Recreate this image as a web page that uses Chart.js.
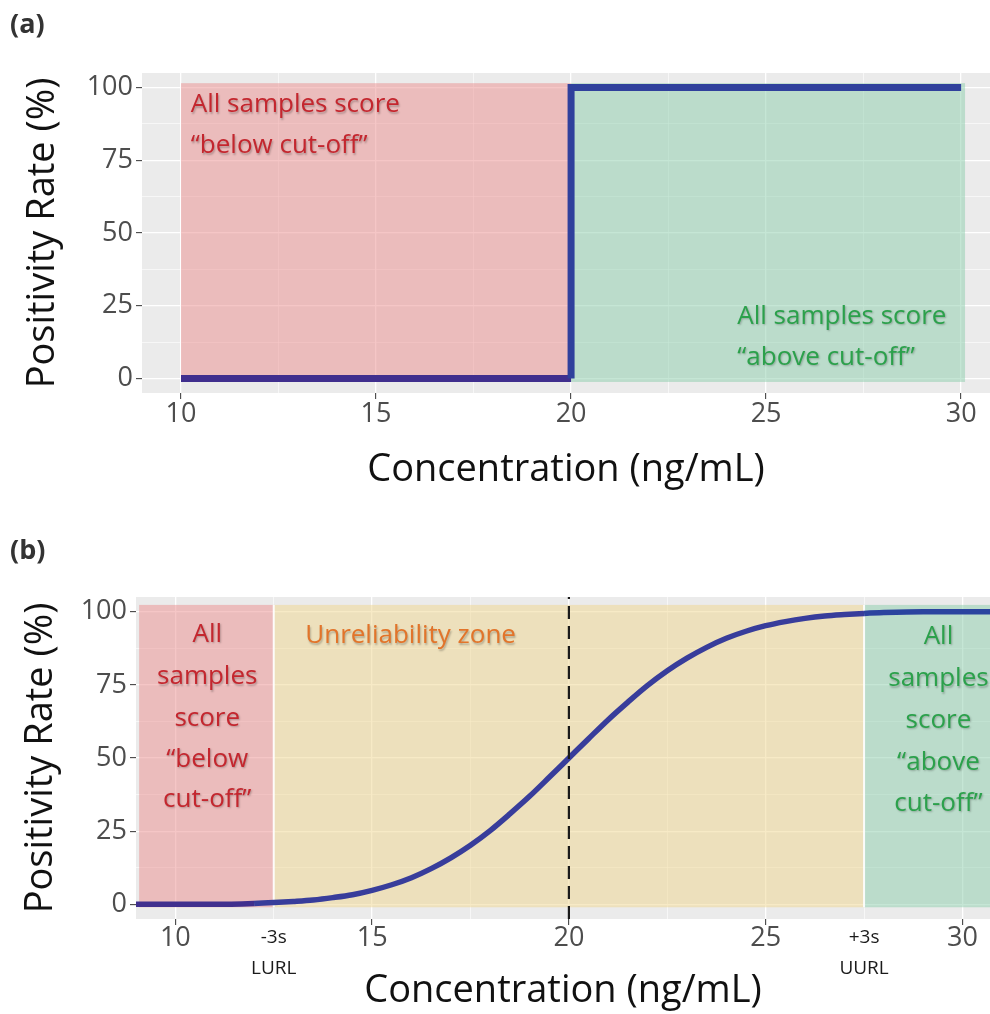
<!DOCTYPE html>
<html>
<head>
<meta charset="utf-8">
<script src="https://cdn.jsdelivr.net/npm/chart.js@4.4.1/dist/chart.umd.min.js"></script>
<style>
  body{margin:0;background:#fff;width:990px;height:1014px;position:relative;overflow:hidden}
  .box{position:absolute;left:0;width:990px}
  .tag{position:absolute;left:10px;font:bold 27px "Open Sans",sans-serif;color:#333}
</style>
</head>
<body>
<div class="box" style="top:0;height:510px"><canvas id="chartA" width="990" height="510"></canvas></div>
<div class="box" style="top:510px;height:504px"><canvas id="chartB" width="990" height="504"></canvas></div>
<div class="tag" style="top:4px">(a)</div>
<div class="tag" style="top:530px">(b)</div>

<script>
/* ===============================
   DATA
================================ */

const xTicks = [10, 15, 20, 25, 30];
const xMinor = [12.5, 17.5, 22.5, 27.5];
const yTicks = [0, 25, 50, 75, 100];
const yMinor = [12.5, 37.5, 62.5, 87.5];

// (a) ideal qualitative assay: step at the cut-off
const stepConc = [10, 20, 20, 30];
const stepRate = [0, 0, 100, 100];

const curveConc = [9, 10, 11, 12, 12.5, 13, 13.5, 14, 14.5, 15, 15.5, 16, 16.5, 17, 17.5,
  18, 18.5, 19, 19.5, 20, 20.5, 21, 21.5, 22, 22.5, 23, 23.5, 24, 24.5, 25, 25.5,
  26, 26.5, 27, 27.5, 28, 29, 30, 31];
const curveRate = [0, 0, 0, 0.3, 0.6, 1, 1.5, 2.3, 3.3, 4.8, 6.7, 9.1, 12.2, 15.9, 20.2,
  25.2, 30.9, 36.9, 43.4, 50, 56.6, 63.1, 69.1, 74.8, 79.8, 84.1, 87.8, 90.9, 93.3, 95.2, 96.6,
  97.7, 98.5, 99, 99.4, 99.7, 100, 100, 100];

const cutOff = 20;
const limitConc = [12.5, 27.5];
const limitLabels = [["-3s", "LURL"], ["+3s", "UURL"]];

// shaded zones (concentration ranges)
const zoneFromA = [10, 20];
const zoneToA = [20, 30.1];
const zoneFromB = [9.08, 12.5, 27.5];
const zoneToB = [12.5, 27.5, 31];

const belowTextA = ["All samples score", "\u201cbelow cut-off\u201d"];
const aboveTextA = ["All samples score", "\u201cabove cut-off\u201d"];
const belowTextB = ["All", "samples", "score", "\u201cbelow", "cut-off\u201d"];
const aboveTextB = ["All", "samples", "score", "\u201cabove", "cut-off\u201d"];
const zoneTextB = "Unreliability zone";


/* ===============================
   STYLE
================================ */

const FONT = '"Open Sans", sans-serif';
const RED_FILL = "rgba(235,141,141,0.5)";
const GREEN_FILL = "rgba(139,205,171,0.5)";
const YELLOW_FILL = "rgba(240,213,141,0.5)";
const RED_TXT = "#c4262e";
const GREEN_TXT = "#2ba14b";
const ORANGE_TXT = "#e2742a";
const LINE = "#383d9b";
const LINE_LOW = "#402f8e";
const LINE_HIGH = "#2b449f";

const tickVal = c => (c && c.tick) ? c.tick.value : null;
const isMajorX = v => xTicks.includes(v);
const isMajorY = v => yTicks.includes(v);

// flat parts of the curves are a touch more purple (low) / blue (high)
const segColor = c => {
  if (c.p0.parsed.y <= 0.3 && c.p1.parsed.y <= 0.3) return LINE_LOW;
  if (c.p0.parsed.y >= 99.4) return LINE_HIGH;
  return LINE;
};


/* ===============================
   AXES
================================ */
function makeScales(cfg){
  const isLimit = c => cfg.limits && limitConc.includes(tickVal(c));
  return {
    x:{
      type:"linear", min:9, max:cfg.xMax,
      afterBuildTicks:s=>{
        s.ticks = xTicks.concat(xMinor).sort((a,b)=>a-b).map(v=>({value:v}));
      },
      afterFit:s=>{ s.height = cfg.xHeight; },
      border:{display:false},
      grid:{
        color:"#ffffff",
        lineWidth:c=>isMajorX(tickVal(c)) ? 1.3 : 0.6,
        tickColor:c=>isMajorX(tickVal(c)) ? "#333" : "rgba(0,0,0,0)",
        tickLength:6, tickWidth:1
      },
      ticks:{
        autoSkip:false, maxRotation:0, padding:cfg.xPad,
        color:c=>isLimit(c) ? "#1a1a1a" : "#4d4d4d",
        font:c=>isLimit(c)
          ? {family:FONT, size:19, lineHeight:1.63}
          : {family:FONT, size:27},
        callback:v=>{
          if(isMajorX(v)) return String(v);
          const i = limitConc.indexOf(v);
          return (cfg.limits && i >= 0) ? limitLabels[i] : "";
        }
      },
      title:{
        display:true, text:"Concentration (ng/mL)", color:"#111",
        font:{family:FONT, size:38}, padding:{top:0, bottom:cfg.xTitlePad}
      }
    },
    y:{
      type:"linear", min:-5, max:105,
      afterBuildTicks:s=>{
        s.ticks = yTicks.concat(yMinor).sort((a,b)=>a-b).map(v=>({value:v}));
      },
      afterFit:s=>{ s.width = cfg.yWidth; },
      border:{display:false},
      grid:{
        color:"#ffffff",
        lineWidth:c=>isMajorY(tickVal(c)) ? 1.3 : 0.6,
        tickColor:c=>isMajorY(tickVal(c)) ? "#333" : "rgba(0,0,0,0)",
        tickLength:6, tickWidth:1
      },
      ticks:{
        autoSkip:false, padding:3, color:"#4d4d4d",
        font:{family:FONT, size:27},
        callback:v=>isMajorY(v) ? String(v) : ""
      },
      title:{
        display:true, text:"Positivity Rate (%)", color:"#111",
        font:{family:FONT, size:38}, padding:{top:cfg.yTitlePad, bottom:0}
      }
    }
  };
}


/* ===============================
   PLUGINS
================================ */
function panelPlugin(zones, notes){
  return {
    id:"panel",
    beforeDraw(chart){
      const {ctx, chartArea:a} = chart;
      ctx.save();
      ctx.fillStyle = "#ebebeb";
      ctx.fillRect(a.left, a.top, a.right-a.left, a.bottom-a.top);
      ctx.restore();
    },
    beforeDatasetsDraw(chart){
      const {ctx, scales:{x, y}, chartArea:a} = chart;
      ctx.save();
      ctx.beginPath();
      ctx.rect(a.left, a.top, a.right-a.left, a.bottom-a.top);
      ctx.clip();
      zones.from.forEach((f,i)=>{
        const x0 = x.getPixelForValue(f);
        const x1 = x.getPixelForValue(zones.to[i]);
        const y0 = y.getPixelForValue(zones.top);
        const y1 = y.getPixelForValue(zones.bottom);
        ctx.fillStyle = zones.fill[i];
        ctx.fillRect(x0, y0, x1-x0, y1-y0);
      });
      if(zones.edges){
        ctx.strokeStyle = "rgba(255,255,255,0.9)";
        ctx.lineWidth = 2;
        zones.edges.forEach(v=>{
          const px = x.getPixelForValue(v);
          ctx.beginPath();
          ctx.moveTo(px, y.getPixelForValue(zones.top));
          ctx.lineTo(px, y.getPixelForValue(zones.bottom));
          ctx.stroke();
        });
      }
      ctx.restore();
    },
    afterDraw(chart){
      const {ctx, scales:{x, y}} = chart;
      ctx.save();
      ctx.textBaseline = "middle";
      ctx.shadowColor = "rgba(0,0,0,0.25)";
      ctx.shadowOffsetX = 1;
      ctx.shadowOffsetY = 1.5;
      ctx.shadowBlur = 2;
      notes.forEach(n=>{
        ctx.font = n.size + "px " + FONT;
        ctx.fillStyle = n.color;
        ctx.textAlign = n.align;
        n.lines.forEach((t,i)=>{
          ctx.fillText(t, x.getPixelForValue(n.x), y.getPixelForValue(n.y[i]));
        });
      });
      ctx.restore();
    }
  };
}

const common = {
  responsive:false,
  animation:false,
  devicePixelRatio:1,
  events:[],
  plugins:{legend:{display:false}, tooltip:{enabled:false}}
};


/* ===============================
   CHART (a)
================================ */
new Chart(document.getElementById("chartA"),{
  type:"line",
  data:{
    datasets:[{
      data:stepConc.map((c,i)=>({x:c, y:stepRate[i]})),
      borderColor:LINE,
      segment:{borderColor:c=>c.p0.parsed.y === 0 && c.p1.parsed.y === 0 ? LINE_LOW : "#2f409c"},
      borderWidth:7,
      pointRadius:0,
      tension:0,
      borderJoinStyle:"miter",
      borderCapStyle:"butt"
    }]
  },
  options:{
    ...common,
    layout:{padding:{top:73, left:0, right:0, bottom:0}},
    scales:makeScales({xMax:30.74, xHeight:117, xPad:-1, xTitlePad:17,
      yWidth:142, yTitlePad:20, limits:false})
  },
  plugins:[panelPlugin(
    {from:zoneFromA, to:zoneToA, top:101.5, bottom:-1.2, fill:[RED_FILL, GREEN_FILL]},
    [
      {lines:belowTextA, x:10.25, y:[94, 80], color:RED_TXT, size:26, align:"left"},
      {lines:aboveTextA, x:24.26, y:[21.4, 7.3], color:GREEN_TXT, size:26, align:"left"}
    ]
  )]
});


/* ===============================
   CHART (b)
================================ */
new Chart(document.getElementById("chartB"),{
  type:"line",
  data:{
    datasets:[
      {
        data:[{x:cutOff, y:-5}, {x:cutOff, y:105}],
        borderColor:"#1a1a1a",
        borderWidth:2.2,
        borderDash:[13,7],
        pointRadius:0
      },
      {
        data:curveConc.map((c,i)=>({x:c, y:curveRate[i]})),
        borderColor:LINE,
        segment:{borderColor:segColor},
        borderWidth:5.5,
        pointRadius:0,
        cubicInterpolationMode:"monotone"
      }
    ]
  },
  options:{
    ...common,
    layout:{padding:{top:87, left:0, right:0, bottom:0}},
    scales:makeScales({xMax:30.7, xHeight:95, xPad:-3, xTitlePad:0,
      yWidth:136, yTitlePad:18, limits:true})
  },
  plugins:[panelPlugin(
    {from:zoneFromB, to:zoneToB, top:102.3, bottom:-1, edges:limitConc,
     fill:[RED_FILL, YELLOW_FILL, GREEN_FILL]},
    [
      {lines:belowTextB, x:10.81, y:[92.2, 77.8, 63.5, 49.5, 35.8], color:RED_TXT, size:26, align:"center"},
      {lines:aboveTextB, x:29.39, y:[91.5, 77.1, 62.8, 48.5, 34.5], color:GREEN_TXT, size:26, align:"center"},
      {lines:[zoneTextB], x:13.3, y:[91.8], color:ORANGE_TXT, size:26, align:"left"}
    ]
  )]
});
</script>
</body>
</html>
